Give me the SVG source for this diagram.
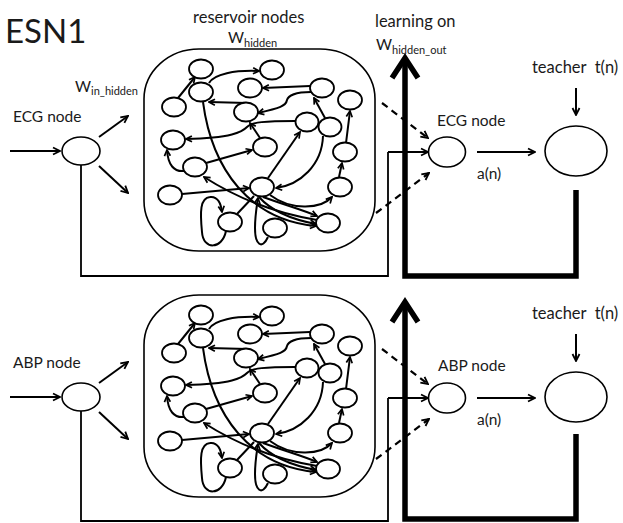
<svg xmlns="http://www.w3.org/2000/svg" xmlns:xlink="http://www.w3.org/1999/xlink" width="623" height="523" viewBox="0 0 623 523">
<style>
  text { font-family: Lato, "Open Sans", "Liberation Sans", sans-serif; fill: #1a1a1a; }
  .lbl { font-size: 15.5px; }
  .lbl2 { font-size: 16.5px; }
  .sub { font-size: 11px; }
  .big { font-size: 33px; }
  .nd { fill: #fff; stroke: #000; stroke-width: 1.8; }
  .big-nd { fill: #fff; stroke: #000; stroke-width: 1.6; }
  .e { fill: none; stroke: #000; stroke-width: 2; marker-end: url(#ah); }
  .ep { fill: none; stroke: #000; stroke-width: 2; }
  .ln { fill: none; stroke: #000; stroke-width: 1.8; }
  .arr { fill: none; stroke: #000; stroke-width: 2; marker-end: url(#ahl); }
  .dash { fill: none; stroke: #000; stroke-width: 2.2; stroke-dasharray: 7 5; marker-end: url(#ahl); }
  .thick { fill: none; stroke: #000; stroke-width: 5.5; }
  .res { fill: none; stroke: #000; stroke-width: 1.6; }
</style>
<defs>
  <marker id="ah" viewBox="0 0 10 10" refX="9" refY="5" markerWidth="8.5" markerHeight="8.5" markerUnits="userSpaceOnUse" orient="auto">
    <path d="M2,1.5 L9,5 L2,8.5" fill="none" stroke="#000" stroke-width="2"/>
  </marker>
  <marker id="ahl" viewBox="0 0 10 10" refX="9" refY="5" markerWidth="10" markerHeight="10" markerUnits="userSpaceOnUse" orient="auto">
    <path d="M2,1.5 L9,5 L2,8.5" fill="none" stroke="#000" stroke-width="1.8"/>
  </marker>
</defs>
<rect width="623" height="523" fill="#fff"/>

<text class="big" x="5" y="43">ESN1</text>
<text class="lbl2" x="193" y="23">reservoir nodes</text>
<text class="lbl" x="228" y="43">W<tspan class="sub" dy="4">hidden</tspan></text>
<text class="lbl" x="75" y="92">W<tspan class="sub" dy="3">in_hidden</tspan></text>
<text class="lbl2" x="375" y="27">learning on</text>
<text class="lbl" x="376" y="50">W<tspan class="sub" dy="4">hidden_out</tspan></text>

<!-- Top reservoir -->
<g id="reservoir1">
  <rect class="res" x="144" y="49" width="231" height="202" rx="55" ry="50"/>
  <g id="res-edges">
    <path class="e" d="M178 98 L195 77"/>
    <path class="e" d="M209 83 C214 74 235 70 259 71"/>
    <path class="e" d="M310 86 L263 88"/>
    <path class="e" d="M311 92 C295 92 288 96 287 100 C286 106 280 108 258 113"/>
    <path class="e" d="M247 103 L209 102"/>
    <path class="e" d="M295 121 C265 121 252 122 247 127 C242 132 232 138 186 139"/>
    <path class="e" d="M325 118 L314 98"/>
    <path class="e" d="M260 138 L250 123"/>
    <path class="e" d="M346 143 L350 111"/>
    <path class="e" d="M339 177 L342 163"/>
    <path class="e" d="M270 195 C290 210 320 210 332 197"/>
    <path class="e" d="M268 178 L300 132"/>
    <path class="e" d="M323 136 C322 165 300 185 276 188"/>
    <path class="e" d="M259 197 C275 215 300 221 316 224"/>
    <path class="e" d="M263 197 C285 205 303 210 317 216"/>
    <path class="e" d="M182 194 L249 188"/>
    <path class="e" d="M206 163 L252 150"/>
    <path class="e" d="M184 171 C174 172 168 165 167 150"/>
    <path class="e" d="M317 220 C280 214 240 200 204 177"/>
    <path class="e" d="M203 102 C212 170 250 220 316 226"/>
    <path class="e" d="M226 231 C222 250 203 250 202 232 C200 212 200 198 210 197 C218 196 221 204 222 212"/>
    <path class="e" d="M268 237 C262 250 255 245 255 228 C255 215 257 205 258 198"/>
    <path class="ep" d="M237 214 L254 196"/>
  </g>
  <g id="nA"><ellipse class="nd" cx="201" cy="69" rx="12" ry="9.5"/></g>
  <g id="nB"><ellipse class="nd" cx="272" cy="70" rx="12" ry="9.5"/></g>
  <g id="nC"><ellipse class="nd" cx="201" cy="92" rx="12" ry="9.5"/></g>
  <g id="nD"><ellipse class="nd" cx="250" cy="88" rx="12" ry="9.5"/></g>
  <g id="nE"><ellipse class="nd" cx="322" cy="88" rx="12" ry="9.5"/></g>
  <g id="nF"><ellipse class="nd" cx="174" cy="107" rx="12" ry="9.5"/></g>
  <g id="nG"><ellipse class="nd" cx="246" cy="112" rx="12" ry="9.5"/></g>
  <g id="nH"><ellipse class="nd" cx="307" cy="122" rx="11.5" ry="9.5"/></g>
  <g id="nI"><ellipse class="nd" cx="330" cy="127" rx="11.5" ry="9.5"/></g>
  <g id="nJ"><ellipse class="nd" cx="350" cy="100" rx="12" ry="9.5"/></g>
  <g id="nK"><ellipse class="nd" cx="173" cy="140" rx="12" ry="9.5"/></g>
  <g id="nL"><ellipse class="nd" cx="265" cy="147" rx="12" ry="9.5"/></g>
  <g id="nM"><ellipse class="nd" cx="345" cy="152" rx="12" ry="9.5"/></g>
  <g id="nN"><ellipse class="nd" cx="195" cy="167" rx="12" ry="9.5"/></g>
  <g id="nO"><ellipse class="nd" cx="170" cy="195" rx="12" ry="9.5"/></g>
  <g id="nP"><ellipse class="nd" cx="262" cy="187" rx="12" ry="9.5"/></g>
  <g id="nQ"><ellipse class="nd" cx="340" cy="187" rx="12" ry="9.5"/></g>
  <g id="nR"><ellipse class="nd" cx="230" cy="222" rx="12" ry="9.5"/></g>
  <g id="nS"><ellipse class="nd" cx="275" cy="228" rx="12" ry="9.5"/></g>
  <g id="nT"><ellipse class="nd" cx="328" cy="223" rx="12" ry="9.5"/></g>
</g>

<!-- Bottom reservoir (identical copy) -->
<use id="reservoir2" xlink:href="#reservoir1" href="#reservoir1" transform="translate(0,246)"/>

<!-- Top connectors -->
<g id="connectors-top">
  <path class="arr" d="M10 151 L60 151"/>
  <path class="arr" d="M99 137 L128 116"/>
  <path class="arr" d="M99 166 L128 193"/>
  <path class="ln" d="M81 165 L81 276 L388 276 L388 152"/>
  <path class="arr" d="M388 152 L428 152"/>
  <path class="dash" d="M382 103 L428 138"/>
  <path class="dash" d="M376 213 L429 173"/>
  <path class="thick" d="M405 58 L405 276 L576 276 L576 190"/>
  <path class="thick" d="M392 78 L405 58 L418 78"/>
  <path class="arr" d="M477 152 L535 152"/>
  <path class="arr" d="M576 88 L576 115"/>
</g>

<!-- Bottom connectors -->
<g id="connectors-bottom">
  <path class="arr" d="M10 397 L60 397"/>
  <path class="arr" d="M99 383 L128 362"/>
  <path class="arr" d="M99 412 L128 439"/>
  <path class="ln" d="M81 411 L81 521 L388 521 L388 398"/>
  <path class="arr" d="M388 398 L428 398"/>
  <path class="dash" d="M382 349 L428 384"/>
  <path class="dash" d="M376 459 L429 419"/>
  <path class="thick" d="M405 302 L405 519 L576 519 L576 434"/>
  <path class="thick" d="M392 322 L405 302 L418 322"/>
  <path class="arr" d="M477 398 L535 398"/>
  <path class="arr" d="M576 334 L576 361"/>
</g>

<!-- Top nodes -->
<g id="ecg-in">
  <ellipse class="big-nd" cx="81" cy="151" rx="19" ry="14"/>
  <text class="lbl" x="13" y="122">ECG node</text>
</g>
<g id="ecg-out">
  <ellipse class="big-nd" cx="447" cy="152" rx="18.5" ry="15"/>
  <text class="lbl" x="437" y="126">ECG node</text>
  <text class="lbl" x="477" y="179">a(n)</text>
</g>
<g id="teacher1">
  <ellipse class="big-nd" cx="576" cy="151" rx="31" ry="25"/>
  <text class="lbl2" x="532" y="73" style="white-space:pre">teacher  t(n)</text>
</g>

<!-- Bottom nodes -->
<g id="abp-in">
  <ellipse class="big-nd" cx="81" cy="397" rx="19" ry="14"/>
  <text class="lbl" x="13" y="368">ABP node</text>
</g>
<g id="abp-out">
  <ellipse class="big-nd" cx="447" cy="398" rx="18.5" ry="15"/>
  <text class="lbl" x="438" y="371">ABP node</text>
  <text class="lbl" x="477" y="425">a(n)</text>
</g>
<g id="teacher2">
  <ellipse class="big-nd" cx="576" cy="397" rx="31" ry="25"/>
  <text class="lbl2" x="532" y="319" style="white-space:pre">teacher  t(n)</text>
</g>
</svg>
